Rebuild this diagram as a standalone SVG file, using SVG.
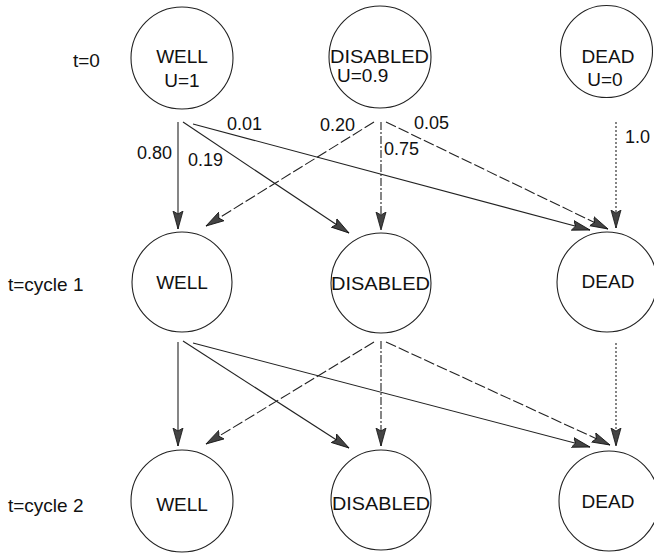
<svg xmlns="http://www.w3.org/2000/svg" width="654" height="553" viewBox="0 0 654 553">
  <style>
    .node circle { fill: #fff; stroke: #222; stroke-width: 1.1; }
    text { font-family: "Liberation Sans", Arial, sans-serif; font-size: 19px; fill: #111; }
    .p { font-size: 18px; }
    .mid { text-anchor: middle; }
    .edge { fill: none; stroke: #222; stroke-width: 1.1; marker-end: url(#ah); }
    .dash { stroke-dasharray: 11 3; }
    .dashdot { stroke-dasharray: 8 2 2 2; }
    .dot { stroke-dasharray: 2 2; }
  </style>
  <defs>
    <marker id="ah" markerWidth="20" markerHeight="12" refX="18" refY="6" orient="auto" markerUnits="userSpaceOnUse">
      <path d="M0,1 L18,6 L0,11 L3,6 z" fill="#444" stroke="#111" stroke-width="0.8"/>
    </marker>
  </defs>

  <!-- row labels -->
  <g id="row-labels">
    <text x="73" y="67">t=0</text>
    <text x="8" y="291">t=cycle 1</text>
    <text x="8" y="512">t=cycle 2</text>
  </g>

  <!-- t=0 -->
  <g id="well0" class="node">
    <circle cx="182" cy="58" r="51"/>
    <text class="mid" x="182" y="63">WELL</text>
    <text class="mid" x="182" y="87">U=1</text>
  </g>
  <g id="disabled0" class="node">
    <circle cx="380" cy="57" r="51"/>
    <text x="330" y="63" textLength="99" lengthAdjust="spacingAndGlyphs">DISABLED</text>
    <text x="337" y="82">U=0.9</text>
  </g>
  <g id="dead0" class="node">
    <circle cx="606.5" cy="51.5" r="46"/>
    <text class="mid" x="608" y="63">DEAD</text>
    <text class="mid" x="605" y="86">U=0</text>
  </g>

  <!-- t=cycle 1 -->
  <g id="well1" class="node">
    <circle cx="182" cy="282" r="50"/>
    <text class="mid" x="182" y="289">WELL</text>
  </g>
  <g id="disabled1" class="node">
    <circle cx="381" cy="283" r="50"/>
    <text x="331" y="290" textLength="99" lengthAdjust="spacingAndGlyphs">DISABLED</text>
  </g>
  <g id="dead1" class="node">
    <circle cx="607" cy="282" r="50"/>
    <text class="mid" x="608" y="288">DEAD</text>
  </g>

  <!-- t=cycle 2 -->
  <g id="well2" class="node">
    <circle cx="182" cy="501" r="51"/>
    <text class="mid" x="182" y="511">WELL</text>
  </g>
  <g id="disabled2" class="node">
    <circle cx="381" cy="500" r="50"/>
    <text x="332" y="510" textLength="98" lengthAdjust="spacingAndGlyphs">DISABLED</text>
  </g>
  <g id="dead2" class="node">
    <circle cx="609" cy="501" r="50"/>
    <text class="mid" x="608" y="508">DEAD</text>
  </g>

  <!-- transitions -->
  <g id="connectors">
    <!-- t=0 to cycle 1 -->
    <line class="edge" x1="178" y1="122" x2="178" y2="229"/>
    <line class="edge" x1="183" y1="122" x2="349" y2="233"/>
    <line class="edge" x1="193" y1="124" x2="590" y2="230"/>
    <line class="edge dash" x1="374" y1="122" x2="206" y2="226"/>
    <line class="edge dashdot" x1="381" y1="122" x2="381" y2="230"/>
    <line class="edge dash" x1="386" y1="122" x2="608" y2="229"/>
    <line class="edge dot" x1="616" y1="122" x2="616" y2="228"/>
    <!-- cycle 1 to cycle 2 -->
    <line class="edge" x1="178" y1="342" x2="178" y2="446"/>
    <line class="edge" x1="183" y1="341" x2="349" y2="448"/>
    <line class="edge" x1="193" y1="343" x2="590" y2="447"/>
    <line class="edge dash" x1="374" y1="342" x2="206" y2="444"/>
    <line class="edge dashdot" x1="381" y1="341" x2="381" y2="446"/>
    <line class="edge dash" x1="386" y1="342" x2="610" y2="445"/>
    <line class="edge dot" x1="616" y1="343" x2="616" y2="446"/>
  </g>

  <!-- transition probabilities -->
  <g id="probabilities">
    <text class="p" x="137" y="159">0.80</text>
    <text class="p" x="188" y="166">0.19</text>
    <text class="p" x="227" y="130">0.01</text>
    <text class="p" x="320" y="131">0.20</text>
    <text class="p" x="384" y="155">0.75</text>
    <text class="p" x="414" y="129">0.05</text>
    <text class="p" x="625" y="143">1.0</text>
  </g>
</svg>
